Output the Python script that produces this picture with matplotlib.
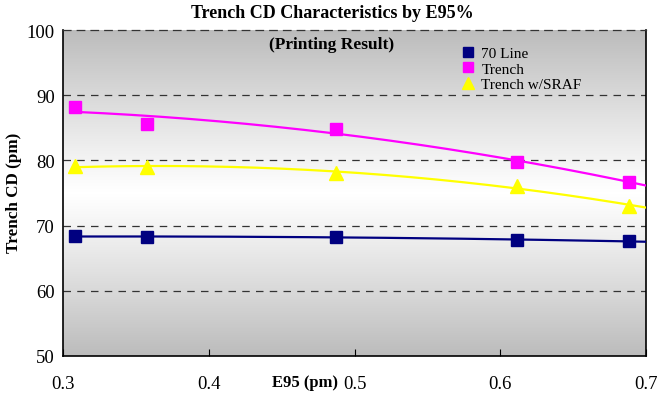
import numpy as np
import matplotlib.pyplot as plt
from matplotlib.colors import LinearSegmentedColormap
from matplotlib.lines import Line2D

plt.rcParams['font.family'] = ['Liberation Serif', 'DejaVu Serif']

# measured E95 values and trench CD for each series
e95 = [0.308, 0.3575, 0.487, 0.6115, 0.688]
line70 = [68.4, 68.2, 68.3, 67.8, 67.6]
trench = [88.2, 85.6, 84.8, 79.8, 76.7]
trench_sraf = [79.1, 79.0, 78.1, 76.1, 73.0]

series = [
    ('70 Line', line70, '#000080', 's'),
    ('Trench', trench, '#ff00ff', 's'),
    ('Trench w/SRAF', trench_sraf, '#ffff00', '^'),
]

fig = plt.figure(figsize=(6.59, 4.02), dpi=100)
ax = fig.add_axes([63/659, 1 - 357/402, (646 - 63)/659, (357 - 31)/402])

# grey-white-grey background gradient
grad = np.abs(np.linspace(-1, 1, 256)) ** 1.1
grad = grad.reshape(-1, 1)
cmap = LinearSegmentedColormap.from_list('bg', ['#ffffff', '#bcbcbc'])
ax.imshow(grad, aspect='auto', cmap=cmap, extent=(0.3, 0.7, 50, 100),
          origin='lower', zorder=0, vmin=0, vmax=1)

xs = np.linspace(e95[0], 0.7, 200)
handles = []
for name, ys, color, mk in series:
    coef = np.polyfit(e95, ys, 2)
    ax.plot(xs, np.polyval(coef, xs), color=color, lw=1.6, zorder=3)
    ax.plot(e95, ys, linestyle='none', marker=mk, color=color,
            markersize=9 if mk == 's' else 10, zorder=4)
    handles.append(Line2D([], [], linestyle='none', marker=mk, color=color,
                          markersize=7 if mk == 's' else 8, label=name))

ax.set_xlim(0.3, 0.7)
ax.set_ylim(50, 100)
ax.set_yticks([50, 60, 70, 80, 90, 100])
ax.set_xticks([0.3, 0.4, 0.5, 0.6, 0.7])
ax.set_xticklabels(['0.3', '0.4', '0.5', '0.6', '0.7'])
for y in [60, 70, 80, 90]:
    ax.axhline(y, color='#333333', lw=0.9, ls=(0, (6, 5)), zorder=1)

ax.spines['top'].set_linestyle((0, (6, 5)))
ax.spines['top'].set_color('#333333')
ax.spines['top'].set_linewidth(0.9)
for s in ['left', 'bottom', 'right']:
    ax.spines[s].set_linewidth(1.2)

ax.tick_params(axis='x', direction='in', length=5, pad=14, labelsize=13.5)
ax.tick_params(axis='y', length=0, pad=6, labelsize=13.5)

fig.text(14/659, 1 - 193/402, 'Trench CD (pm)', fontsize=12.3, weight='bold',
         rotation=90, ha='center', va='center')
fig.text(305/659, 1 - 383/402, 'E95 (pm)', fontsize=12, weight='bold',
         ha='center', va='center')

fig.text(332/659, 1 - 14/402, 'Trench CD Characteristics by E95%',
         fontsize=13, weight='bold', ha='center', va='center')
fig.text(332/659, 1 - 45/402, '(Printing Result)',
         fontsize=12.5, weight='bold', ha='center', va='center')

leg = ax.legend(handles=handles, loc='upper left', bbox_to_anchor=(0.665, 0.978),
                frameon=False, fontsize=11, handletextpad=0.4, labelspacing=0.12,
                handlelength=1.0, borderaxespad=0.2)
leg.set_zorder(5)

plt.savefig('out.png', dpi=100)
